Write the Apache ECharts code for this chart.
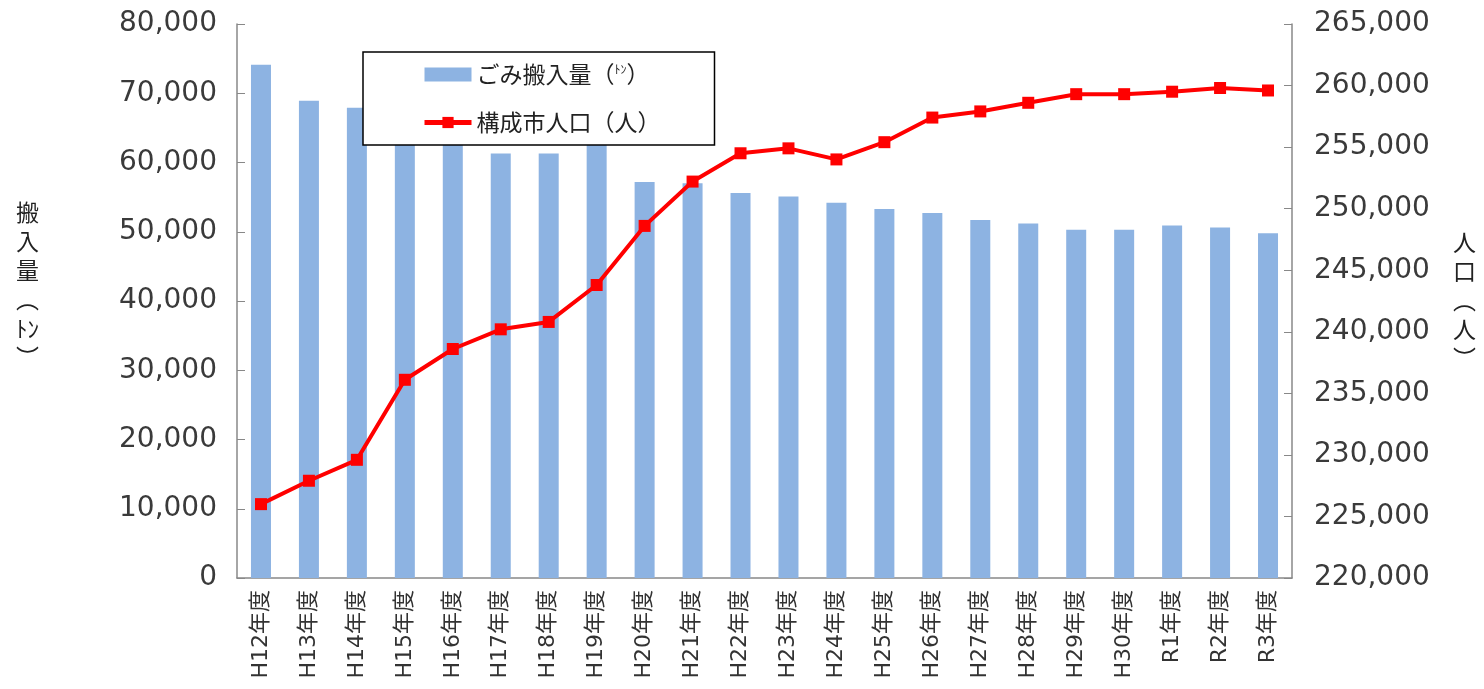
<!DOCTYPE html>
<html>
<head>
<meta charset="utf-8">
<script src="https://cdn.jsdelivr.net/npm/echarts@6/dist/echarts.min.js"></script>
<style>
html,body{margin:0;padding:0;background:#fff;}
#chart{width:1484px;height:689px;}
</style>
</head>
<body>
<div id="chart"></div>
<script>
const categories = ['H12年度','H13年度','H14年度','H15年度','H16年度','H17年度','H18年度','H19年度','H20年度','H21年度','H22年度','H23年度','H24年度','H25年度','H26年度','H27年度','H28年度','H29年度','H30年度','R1年度','R2年度','R3年度'];
const wasteTons = [74100, 68900, 67900, 67900, 64700, 61300, 61300, 62700, 57200, 57000, 55600, 55100, 54200, 53300, 52700, 51700, 51200, 50300, 50300, 50900, 50600, 49800];
const population = [226000, 227900, 229600, 236100, 238600, 240200, 240800, 243800, 248600, 252200, 254500, 254900, 254000, 255400, 257400, 257900, 258600, 259300, 259300, 259500, 259800, 259600];
const wasteName = 'ごみ搬入量（ﾄﾝ）';
const popName = '構成市人口（人）';
const leftAxisName = ['搬','入','量','︵','ﾄﾝ','︶'];
const rightAxisName = ['人','口','︵','人','︶'];

const FONT = "'DejaVu Sans', 'Noto Sans CJK JP', sans-serif";
const CJK = "'Noto Sans CJK JP', 'DejaVu Sans', sans-serif";
const fmt = v => v.toLocaleString('en-US');

const chart = echarts.init(document.getElementById('chart'), null, {renderer:'canvas'});
chart.setOption({
  animation: false,
  backgroundColor: '#ffffff',
  grid: {left: 237, right: 192, top: 24, bottom: 111},
  legend: {
    orient: 'vertical',
    left: 363, top: 52,
    padding: [11, 54, 11, 59],
    itemGap: 25,
    itemWidth: 47, itemHeight: 14,
    borderColor: '#000', borderWidth: 1.5,
    backgroundColor: '#fff',
    data: [
      {name: wasteName, icon: 'rect', itemStyle: {color: '#8DB3E2'}},
      {name: popName, lineStyle: {width: 5, color: '#FF0000'}, itemStyle: {color: '#FF0000'}}
    ],
    formatter: function(name){
      if (name === wasteName) return '{a|ごみ搬入量（}{b|ﾄﾝ}{a|）}';
      return '{a|' + name + '}';
    },
    textStyle: {
      fontFamily: CJK, fontSize: 23, color: '#222',
      rich: {
        a: {fontFamily: CJK, fontSize: 23, color: '#222'},
        b: {fontFamily: CJK, fontSize: 12, color: '#222', verticalAlign: 'top', padding: [0,0,8,0]}
      }
    }
  },
  xAxis: {
    type: 'category',
    data: categories,
    boundaryGap: true,
    axisLine: {lineStyle: {color: '#888', width: 1.5}},
    axisTick: {inside: true, length: 5, interval: 0, lineStyle: {color: '#888'}},
    axisLabel: {rotate: 90, interval: 0, fontSize: 22, margin: 12, color: '#333', fontFamily: FONT}
  },
  yAxis: [
    {
      type: 'value', min: 0, max: 80000, interval: 10000,
      axisLine: {show: true, lineStyle: {color: '#888', width: 1.5}},
      axisTick: {show: true, inside: true, length: 8, lineStyle: {color: '#888'}},
      splitLine: {show: false},
      axisLabel: {fontSize: 28, margin: 20, color: '#3a3a3a', fontFamily: FONT, formatter: fmt}
    },
    {
      type: 'value', min: 220000, max: 265000, interval: 5000,
      position: 'right',
      axisLine: {show: true, lineStyle: {color: '#888', width: 1.5}},
      axisTick: {show: true, inside: true, length: 8, lineStyle: {color: '#888'}},
      splitLine: {show: false},
      axisLabel: {fontSize: 28, margin: 22, color: '#3a3a3a', fontFamily: FONT, formatter: fmt}
    }
  ],
  series: [
    {
      name: wasteName, type: 'bar', data: wasteTons, yAxisIndex: 0,
      barWidth: 20,
      itemStyle: {color: '#8DB3E2'}
    },
    {
      name: popName, type: 'line', data: population, yAxisIndex: 1,
      symbol: 'rect', symbolSize: 12,
      lineStyle: {color: '#FF0000', width: 4},
      itemStyle: {color: '#FF0000'},
      z: 5
    }
  ],
  graphic: [
    {
      type: 'text', left: 16, top: 198,
      style: {text: leftAxisName.join('\n'), font: "23px 'Noto Sans CJK JP'", fill: '#222', lineHeight: 29, align: 'center'}
    },
    {
      type: 'text', left: 1453, top: 228,
      style: {text: rightAxisName.join('\n'), font: "23px 'Noto Sans CJK JP'", fill: '#222', lineHeight: 29, align: 'center'}
    }
  ]
});
</script>
</body>
</html>
